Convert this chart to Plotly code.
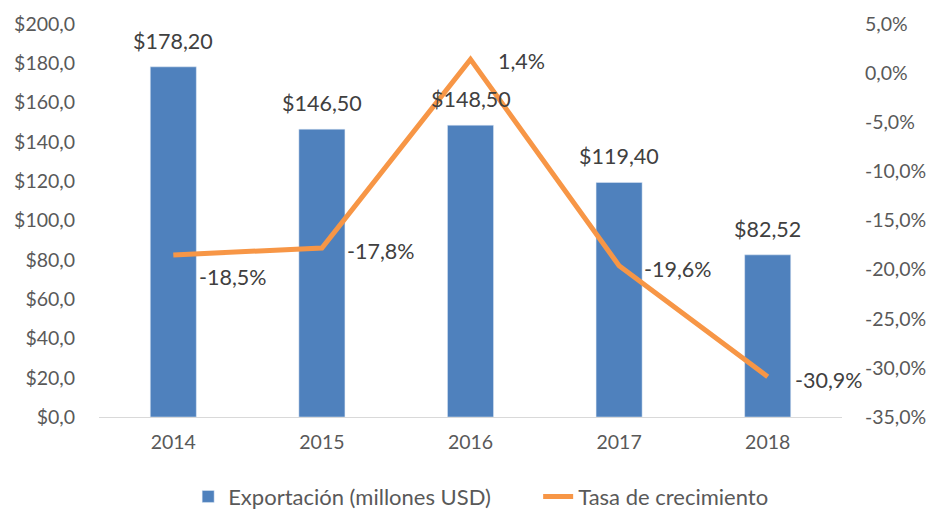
import plotly.graph_objects as go

years = ["2014", "2015", "2016", "2017", "2018"]
exports = [178.20, 146.50, 148.50, 119.40, 82.52]
growth = [-18.5, -17.8, 1.4, -19.6, -30.9]
export_labels = ["$178,20", "$146,50", "$148,50", "$119,40", "$82,52"]
growth_labels = ["-18,5%", "-17,8%", "1,4%", "-19,6%", "-30,9%"]
left_ticks = [0, 20, 40, 60, 80, 100, 120, 140, 160, 180, 200]
left_tick_text = ["$0,0", "$20,0", "$40,0", "$60,0", "$80,0", "$100,0", "$120,0", "$140,0", "$160,0", "$180,0", "$200,0"]
right_ticks = [-35, -30, -25, -20, -15, -10, -5, 0, 5]
right_tick_text = ["-35,0%", "-30,0%", "-25,0%", "-20,0%", "-15,0%", "-10,0%", "-5,0%", "0,0%", "5,0%"]

# label offsets (styling only)
growth_xshift = [24, 23, 25, 23, 25]
growth_yshift = [-22, -3, -2, -3, -3]

FONT = "Lato"
TXT = "#404040"
TICK = "#595959"

fig = go.Figure()
fig.add_trace(go.Bar(
    x=years, y=exports, name="Exportación (millones USD)",
    marker=dict(color="#4F81BD"), width=0.31,
))
fig.add_trace(go.Scatter(
    x=years, y=growth, name="Tasa de crecimiento", yaxis="y2",
    mode="lines", line=dict(color="#F79646", width=5),
))

annotations = []
# category axis: annotation x given as category index
for i, (v, t) in enumerate(zip(exports, export_labels)):
    annotations.append(dict(x=i, y=v, xref="x", yref="y", text=t, showarrow=False,
                            xanchor="center", yanchor="middle", yshift=26,
                            font=dict(family=FONT, size=21.5, color=TXT)))
for i, (v, t, xs, ys) in enumerate(zip(growth, growth_labels, growth_xshift, growth_yshift)):
    annotations.append(dict(x=i, y=v, xref="x", yref="y2", text=t, showarrow=False,
                            xanchor="left", yanchor="middle", xshift=xs, yshift=ys,
                            font=dict(family=FONT, size=21.5, color=TXT)))

fig.update_layout(
    width=933, height=512,
    margin=dict(l=99, r=91, t=24, b=95),
    paper_bgcolor="white", plot_bgcolor="white",
    font=dict(family=FONT, size=19.5, color=TICK),
    showlegend=True,
    annotations=annotations,
    legend=dict(orientation="h", x=0.12, xanchor="left", yref="container",
                y=0.03, yanchor="middle", entrywidth=305, entrywidthmode="pixels",
                font=dict(family=FONT, size=22, color=TICK), traceorder="normal"),
    xaxis=dict(type="category", categoryorder="array", categoryarray=years,
               range=[-0.5, 4.5], autorange=False,
               showgrid=False, showline=True, linecolor="#D9D9D9",
               linewidth=1, ticks="outside", ticklen=8, tickcolor="rgba(0,0,0,0)",
               tickfont=dict(size=19.5, color=TICK), automargin=False),
    yaxis=dict(range=[0, 200], tickvals=left_ticks, ticktext=left_tick_text,
               showgrid=False, zeroline=False, showline=False,
               ticks="outside", ticklen=19, tickcolor="rgba(0,0,0,0)",
               tickfont=dict(size=19.5, color=TICK), automargin=False),
    yaxis2=dict(range=[-35, 5], tickvals=right_ticks, ticktext=right_tick_text,
                overlaying="y", side="right", showgrid=False, zeroline=False,
                showline=False, ticks="outside", ticklen=18, tickcolor="rgba(0,0,0,0)",
                tickfont=dict(size=19.5, color=TICK), automargin=False),
    bargap=0.69,
)

fig.write_html("out.html", post_script="document.body.style.margin='0';",
               config={"displayModeBar": False})
